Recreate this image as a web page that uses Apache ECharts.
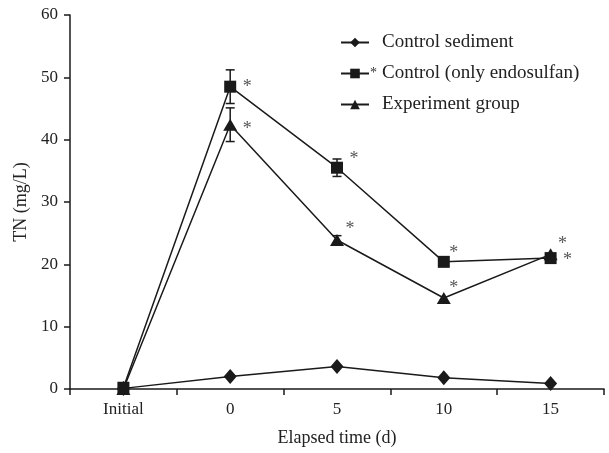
<!DOCTYPE html>
<html>
<head>
<meta charset="utf-8">
<script src="https://cdn.jsdelivr.net/npm/echarts@6/dist/echarts.min.js"></script>
<style>
  html, body { margin: 0; padding: 0; background: #fff; }
  #chart { width: 609px; height: 453px; }
</style>
</head>
<body>
<div id="chart"></div>
<script>
// Total nitrogen over time for three treatments
const categories = ['Initial', '0', '5', '10', '15'];

const sediment = [0.1, 2.0, 3.6, 1.8, 0.9];
const endosulfan = [0.2, 48.5, 35.5, 20.4, 21.0];
const experiment = [0.0, 42.4, 23.9, 14.6, 21.6];

// standard deviations (only those large enough to show)
const endosulfanErr = [0, 2.7, 1.4, 0, 0];
const experimentErr = [0, 2.7, 0.7, 0, 0];

// significance flags
const endosulfanSig = [false, true, true, true, true];
const experimentSig = [false, true, true, true, true];

const yTicks = { min: 0, max: 60, interval: 10 };

const INK = '#1a1a1a';
const FONT = '"Liberation Serif", "Times New Roman", serif';

// where each significance star sits relative to its marker
const endosulfanStarOffset = [[0, 0], [17, 1], [17, -8], [10, -9], [17, 2]];
const experimentStarOffset = [[0, 0], [17, 5], [13, -11], [10, -10], [12, -10]];

function sigData(values, flags, offsets) {
  return values.map((v, i) => ({
    value: v,
    label: flags[i] ? { show: true, offset: offsets[i] } : { show: false }
  }));
}

function errData(values, errs) {
  const out = [];
  values.forEach((v, i) => {
    if (errs[i] > 0) out.push([i, v - errs[i], v + errs[i]]);
  });
  return out;
}

function errSeries(values, errs) {
  return {
    type: 'custom',
    silent: true,
    z: 1,
    data: errData(values, errs),
    renderItem: function (params, api) {
      const x = api.value(0);
      const lo = api.coord([x, api.value(1)]);
      const hi = api.coord([x, api.value(2)]);
      const cap = 4.5;
      const style = { stroke: INK, lineWidth: 1.5 };
      return {
        type: 'group',
        children: [
          { type: 'line', shape: { x1: lo[0], y1: lo[1], x2: hi[0], y2: hi[1] }, style },
          { type: 'line', shape: { x1: lo[0] - cap, y1: lo[1], x2: lo[0] + cap, y2: lo[1] }, style },
          { type: 'line', shape: { x1: hi[0] - cap, y1: hi[1], x2: hi[0] + cap, y2: hi[1] }, style }
        ]
      };
    }
  };
}

const starLabel = {
  formatter: '*',
  position: 'inside',
  color: '#555',
  fontFamily: FONT,
  fontSize: 18
};

const chart = echarts.init(document.getElementById('chart'), null, { renderer: 'canvas' });

chart.setOption({
  animation: false,
  backgroundColor: '#fff',
  textStyle: { fontFamily: FONT },
  grid: { left: 70, right: 5, top: 15, bottom: 64, containLabel: false },
  legend: {
    left: 335,
    top: 28,
    orient: 'vertical',
    itemWidth: 28,
    itemHeight: 12,
    itemGap: 12,
    icon: 'inherit',
    textStyle: {
      fontFamily: FONT,
      fontSize: 19,
      color: '#222',
      rich: {
        s: { width: 12, fontSize: 14, color: '#333', fontFamily: FONT, align: 'left', padding: [0, 0, 0, -4] },
        t: { fontSize: 19, color: '#222', fontFamily: FONT }
      }
    },
    formatter: function (name) {
      const mark = name === 'Control (only endosulfan)' ? '*' : ' ';
      return '{s|' + mark + '}{t|' + name + '}';
    },
    data: ['Control sediment', 'Control (only endosulfan)', 'Experiment group']
  },
  xAxis: {
    type: 'category',
    data: categories,
    boundaryGap: true,
    name: 'Elapsed time (d)',
    nameLocation: 'middle',
    nameGap: 40,
    nameTextStyle: { fontFamily: FONT, fontSize: 18, color: '#222' },
    axisLine: { lineStyle: { color: INK, width: 1.5 } },
    axisTick: { show: true, length: 6, inside: false, lineStyle: { color: INK, width: 1.5 } },
    axisLabel: { fontFamily: FONT, fontSize: 17, color: '#222', margin: 12 },
    splitLine: { show: false }
  },
  yAxis: {
    type: 'value',
    min: yTicks.min,
    max: yTicks.max,
    interval: yTicks.interval,
    name: 'TN (mg/L)',
    nameLocation: 'middle',
    nameGap: 38,
    nameTextStyle: { fontFamily: FONT, fontSize: 18, color: '#222' },
    axisLine: { show: true, lineStyle: { color: INK, width: 1.5 } },
    axisTick: { show: true, length: 6, lineStyle: { color: INK, width: 1.5 } },
    axisLabel: { fontFamily: FONT, fontSize: 17, color: '#222', margin: 12 },
    splitLine: { show: false }
  },
  series: [
    {
      name: 'Control sediment',
      type: 'line',
      data: sediment,
      symbol: 'diamond',
      symbolSize: [13, 15],
      showAllSymbol: true,
      lineStyle: { color: INK, width: 1.5 },
      itemStyle: { color: INK, borderWidth: 0 },
      z: 3
    },
    {
      name: 'Control (only endosulfan)',
      type: 'line',
      data: sigData(endosulfan, endosulfanSig, endosulfanStarOffset),
      symbol: 'rect',
      symbolSize: 12,
      showAllSymbol: true,
      lineStyle: { color: INK, width: 1.5 },
      itemStyle: { color: INK, borderWidth: 0 },
      label: starLabel,
      z: 3
    },
    {
      name: 'Experiment group',
      type: 'line',
      data: sigData(experiment, experimentSig, experimentStarOffset),
      symbol: 'triangle',
      symbolSize: [14, 12],
      showAllSymbol: true,
      lineStyle: { color: INK, width: 1.5 },
      itemStyle: { color: INK, borderWidth: 0 },
      label: starLabel,
      z: 3
    },
    errSeries(endosulfan, endosulfanErr),
    errSeries(experiment, experimentErr)
  ]
});
</script>
</body>
</html>
